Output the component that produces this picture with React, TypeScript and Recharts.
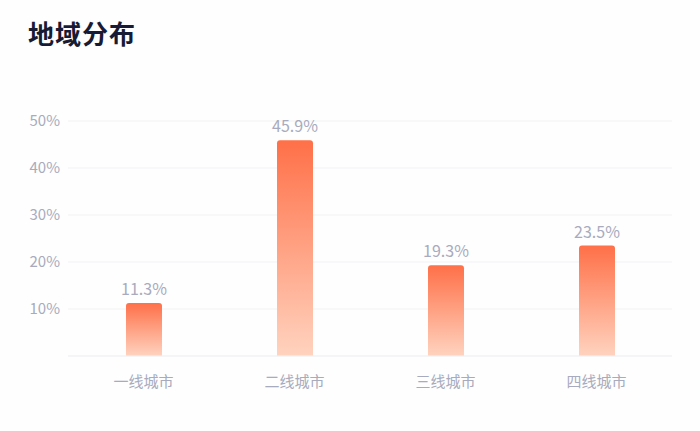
import { BarChart, Bar, XAxis, YAxis, CartesianGrid, LabelList } from 'recharts'

document.body.style.margin = '0'

const categories = ['一线城市', '二线城市', '三线城市', '四线城市']
const shares = [11.3, 45.9, 19.3, 23.5]
const yTicks = [0, 10, 20, 30, 40, 50]

const FONT = '"Noto Sans CJK SC", "Noto Sans", sans-serif'
const TICK_COLOR = '#a8abbd'

export default function App() {
  const data = categories.map((name, i) => ({ name, value: shares[i] }))

  return (
    <div style={{ position: 'relative', width: 700, height: 431, background: '#fefefe', fontFamily: FONT }}>
      <div style={{ position: 'absolute', left: 28, top: 14, fontSize: 26, fontWeight: 700, color: '#171b35', letterSpacing: 1 }}>
        地域分布
      </div>
      <BarChart width={700} height={431} data={data} margin={{ top: 121, right: 28, left: 0, bottom: 45 }}>
        <defs>
          <linearGradient id="barFill" x1="0" y1="0" x2="0" y2="1">
            <stop offset="0%" stopColor="#ff7048" />
            <stop offset="100%" stopColor="#ffd3bf" />
          </linearGradient>
        </defs>
        <CartesianGrid vertical={false} stroke="#f2f2f5" />
        <XAxis dataKey="name" axisLine={{ stroke: '#f2f2f5' }} tickLine={false} height={30} tickMargin={14}
          tick={{ fontSize: 15, fill: TICK_COLOR, fontFamily: FONT }} />
        <YAxis domain={[0, 50]} ticks={yTicks} width={68} axisLine={false} tickLine={false}
          tickFormatter={(v: number) => (v === 0 ? '' : `${v}%`)}
          tick={{ fontSize: 15, fill: TICK_COLOR, fontFamily: FONT }} />
        <Bar dataKey="value" barSize={36} fill="url(#barFill)" radius={[3, 3, 0, 0]} isAnimationActive={false}>
          <LabelList dataKey="value" position="top" offset={8} formatter={(v: number) => `${v}%`}
            style={{ fontSize: 16, fill: TICK_COLOR, fontFamily: FONT }} />
        </Bar>
      </BarChart>
    </div>
  )
}
